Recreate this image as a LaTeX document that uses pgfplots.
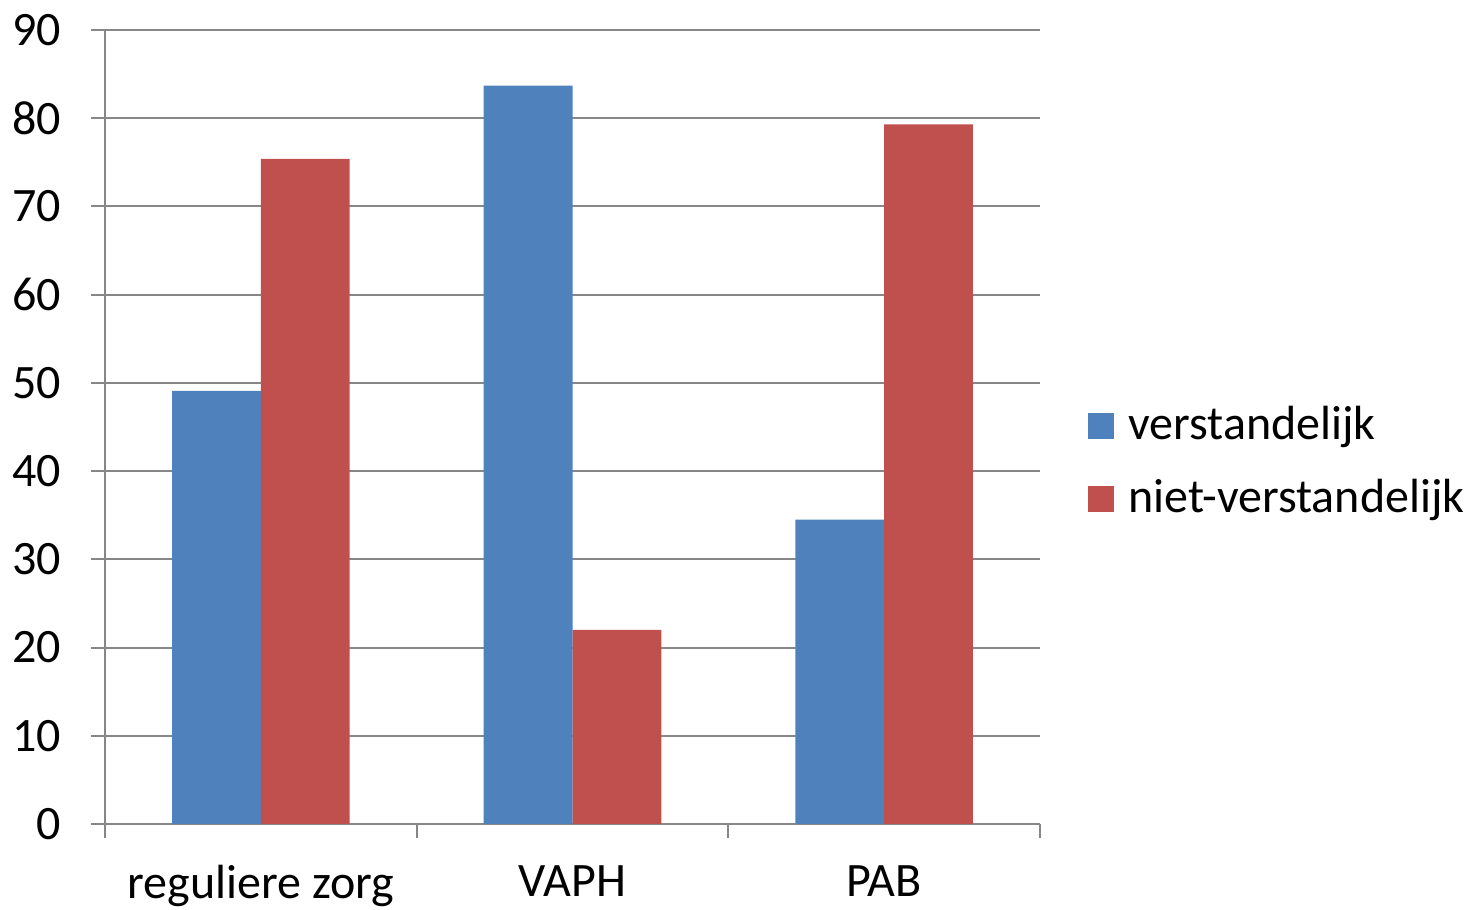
\documentclass[border=0pt]{standalone}
\usepackage{fontspec}
\setmainfont{Carlito}
\usepackage{pgfplots}
\pgfplotsset{compat=1.18}
\definecolor{cblue}{HTML}{4F81BD}
\definecolor{cred}{HTML}{C0504D}
\definecolor{cgrid}{HTML}{878787}
\begin{document}
\fontsize{24}{28}\selectfont
\begin{tikzpicture}
\useasboundingbox (0,0) rectangle (736.5pt,455pt);
\begin{axis}[
  at={(52.5pt,43pt)}, anchor=south west,
  scale only axis, width=467.5pt, height=397pt,
  xmin=0, xmax=3, ymin=0, ymax=90,
  ybar=0pt, bar width=0.285,
  axis x line=bottom, axis y line=left,
  axis line style={-, cgrid, line width=1pt},
  ytick={0,10,...,90},
  ymajorgrids, grid style={cgrid, line width=1pt},
  xtick={0,1,2,3}, xticklabels={},
  extra x ticks={0.5,1.5,2.5},
  extra x tick labels={reguliere zorg,VAPH,PAB},
  extra x tick style={major tick length=0pt, grid=none, xticklabel style={yshift=-12.5pt}},
  tick align=outside, major tick length=6.8pt,
  tick style={cgrid, line width=1pt},
  ticklabel style={font=\fontsize{24}{28}\selectfont, text=black},
  /pgf/number format/assume math mode=true,
  yticklabel style={xshift=-7pt},
  legend style={at={(1.0513,0.455)}, anchor=west, draw=none, fill=none,
    font=\fontsize{24}{28}\selectfont, row sep=12pt, inner sep=0pt,
    nodes={inner xsep=7pt}},
  legend cell align=left,
  legend image code/.code={\fill[#1] (0pt,-6.5pt) rectangle (13pt,6.5pt);},
]
\addplot[fill=cblue, draw=none] coordinates {(0.5,49.1) (1.5,83.7) (2.5,34.5)};
\addplot[fill=cred, draw=none] coordinates {(0.5,75.4) (1.5,22.0) (2.5,79.3)};
\legend{verstandelijk, niet-verstandelijk}
\end{axis}
\end{tikzpicture}
\end{document}
